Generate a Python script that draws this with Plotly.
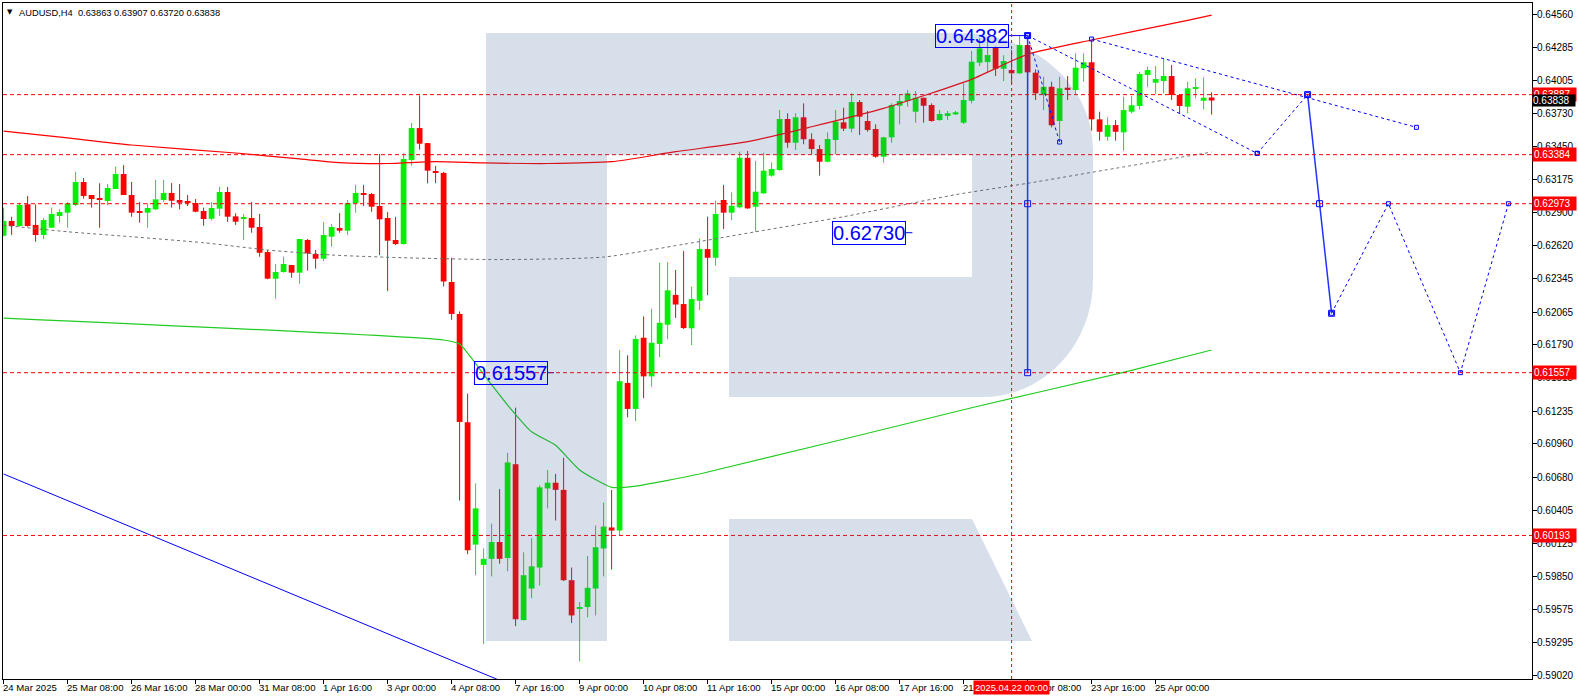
import plotly.graph_objects as go

# ---------------- data (AUDUSD H4, candle index 0 = 24 Mar 2025 00:00) ----------------
opens = [0.62705,0.62828,0.62786,0.62968,0.62795,0.62711,0.62772,0.62870,0.62898,0.62962,
         0.63155,0.63046,0.63021,0.62996,0.63096,0.63222,0.63046,0.62903,0.62898,0.62926,
         0.63004,0.63063,0.63004,0.62990,0.62979,0.62912,0.62847,0.62931,0.63071,0.62867,
         0.62847,0.62853,0.62778,0.62568,0.62345,0.62401,0.62459,0.62395,0.62669,0.62552,
         0.62512,0.62697,0.62769,0.62747,0.62976,0.63057,0.63054,0.62954,0.62853,0.62669,
         0.62635,0.63339,0.63607,0.63481,0.63247,0.63231,0.62317,0.62049,0.61141,0.60116,
         0.59946,0.59997,0.60138,0.60004,0.60789,0.59484,0.59748,0.59924,0.60587,0.60635,
         0.60575,0.59818,0.59577,0.59593,0.59748,0.60084,0.60260,0.60234,0.61471,0.61253,
         0.61850,0.61526,0.61798,0.61959,0.62209,0.62132,0.61929,0.62160,0.62593,0.62520,
         0.63004,0.62898,0.62943,0.63358,0.62948,0.63060,0.63208,0.63255,0.63683,0.63484,
         0.63697,0.63513,0.63431,0.63325,0.63507,0.63655,0.63602,0.63825,0.63666,0.63599,
         0.63367,0.63529,0.63794,0.63834,0.63744,0.63861,0.63800,0.63674,0.63716,0.63722,
         0.63652,0.63836,0.64155,0.64160,0.64284,0.64104,0.64093,0.64066,0.64303,0.64071,
         0.63884,0.63953,0.63666,0.63945,0.63926,0.64108,0.64158,0.63680,0.63534,0.63632,
         0.63571,0.63744,0.63792,0.64052,0.63987,0.64001,0.64043,0.63884,0.63786,0.63937,
         0.63836,0.63863]
highs = [0.62940,0.62864,0.62981,0.63038,0.62968,0.62853,0.62940,0.62926,0.62987,0.63241,
         0.63188,0.63046,0.63144,0.63138,0.63283,0.63297,0.63155,0.62987,0.62976,0.63172,
         0.63172,0.63146,0.63138,0.63046,0.63012,0.62940,0.62987,0.63115,0.63113,0.62893,
         0.62887,0.62987,0.62887,0.62585,0.62468,0.62529,0.62459,0.62677,0.62677,0.62585,
         0.62820,0.62803,0.62895,0.63004,0.63130,0.63130,0.63063,0.63390,0.62903,0.62862,
         0.63395,0.63649,0.63881,0.63481,0.63289,0.63240,0.62520,0.62070,0.61382,0.60629,
         0.60084,0.60292,0.60581,0.60886,0.61264,0.60052,0.60171,0.60612,0.60741,0.60709,
         0.60844,0.59924,0.59635,0.60021,0.60276,0.60468,0.60574,0.61747,0.61703,0.61869,
         0.62029,0.62093,0.62478,0.62484,0.62417,0.62577,0.62278,0.62683,0.62864,0.62998,
         0.63130,0.63069,0.63409,0.63415,0.63331,0.63400,0.63320,0.63758,0.63731,0.63731,
         0.63814,0.63563,0.63465,0.63571,0.63758,0.63778,0.63898,0.63842,0.63750,0.63638,
         0.63534,0.63814,0.63884,0.63926,0.63917,0.63861,0.63814,0.63758,0.63750,0.63750,
         0.63982,0.64253,0.64359,0.64340,0.64289,0.64217,0.64261,0.64382,0.64331,0.64099,
         0.64037,0.63995,0.64037,0.64043,0.64233,0.64233,0.64345,0.63744,0.63697,0.63674,
         0.63870,0.63876,0.64079,0.64121,0.64127,0.64191,0.64135,0.63892,0.63995,0.64024,
         0.64032,0.63907]
lows = [0.62700,0.62711,0.62780,0.62780,0.62655,0.62677,0.62772,0.62814,0.62772,0.62954,
        0.63015,0.62940,0.62772,0.62960,0.63096,0.63046,0.62864,0.62814,0.62772,0.62920,
        0.62987,0.62940,0.62926,0.62954,0.62901,0.62789,0.62834,0.62870,0.62820,0.62795,
        0.62669,0.62730,0.62529,0.62340,0.62177,0.62395,0.62353,0.62303,0.62412,0.62428,
        0.62493,0.62613,0.62730,0.62711,0.62898,0.62954,0.62906,0.62543,0.62241,0.62627,
        0.62630,0.63291,0.63426,0.63144,0.63146,0.62279,0.62000,0.60485,0.60036,0.59860,
        0.59283,0.59850,0.59956,0.59892,0.59433,0.59480,0.59667,0.59774,0.60420,0.60318,
        0.59811,0.59459,0.59138,0.59507,0.59523,0.59850,0.59908,0.60197,0.61183,0.61151,
        0.61343,0.61439,0.61687,0.61837,0.62016,0.61923,0.61789,0.62082,0.62208,0.62453,
        0.62761,0.62836,0.62934,0.62930,0.62738,0.63055,0.63199,0.63250,0.63442,0.63423,
        0.63471,0.63390,0.63208,0.63320,0.63390,0.63582,0.63571,0.63549,0.63576,0.63358,
        0.63317,0.63484,0.63638,0.63786,0.63652,0.63652,0.63660,0.63669,0.63674,0.63716,
        0.63641,0.63814,0.64127,0.64068,0.64043,0.64001,0.63974,0.64060,0.63932,0.63842,
        0.63758,0.63613,0.63507,0.63842,0.63884,0.63995,0.63585,0.63501,0.63501,0.63501,
        0.63417,0.63731,0.63764,0.63953,0.63892,0.63898,0.63842,0.63725,0.63731,0.63856,
        0.63764,0.63720]
closes = [0.62828,0.62786,0.62962,0.62786,0.62711,0.62836,0.62887,0.62903,0.62976,0.63155,
          0.63038,0.63012,0.63004,0.63105,0.63222,0.63046,0.62898,0.62898,0.62937,0.63010,
          0.63063,0.62998,0.62981,0.62985,0.62906,0.62845,0.62937,0.63071,0.62864,0.62822,
          0.62862,0.62772,0.62562,0.62345,0.62401,0.62468,0.62395,0.62677,0.62557,0.62512,
          0.62711,0.62778,0.62747,0.62979,0.63063,0.63052,0.62948,0.62842,0.62663,0.62635,
          0.63348,0.63607,0.63476,0.63250,0.63234,0.62321,0.62049,0.61144,0.60068,0.60420,
          0.59997,0.60138,0.59997,0.60805,0.59491,0.59860,0.59934,0.60596,0.60635,0.60575,
          0.59818,0.59523,0.59593,0.59754,0.60094,0.60267,0.60234,0.61485,0.61253,0.61840,
          0.61526,0.61808,0.61975,0.62247,0.62128,0.61931,0.62174,0.62593,0.62520,0.62887,
          0.62898,0.62956,0.63358,0.62934,0.63074,0.63250,0.63264,0.63683,0.63484,0.63697,
          0.63513,0.63431,0.63325,0.63515,0.63660,0.63602,0.63825,0.63702,0.63591,0.63367,
          0.63529,0.63800,0.63834,0.63898,0.63861,0.63794,0.63666,0.63725,0.63731,0.63739,
          0.63842,0.64163,0.64275,0.64219,0.64104,0.64169,0.64066,0.64303,0.64074,0.63898,
          0.63953,0.63630,0.63940,0.63932,0.64113,0.64158,0.63680,0.63576,0.63632,0.63576,
          0.63758,0.63798,0.64060,0.64093,0.64018,0.64043,0.63884,0.63792,0.63940,0.63948,
          0.63861,0.63838]

# time-axis labels (every 8 bars)
time_tick_idx = [0, 8, 16, 24, 32, 40, 48, 56, 64, 72, 80, 88, 96, 104, 112, 120, 128, 136, 144]
time_tick_txt = ["24 Mar 2025", "25 Mar 08:00", "26 Mar 16:00", "28 Mar 00:00", "31 Mar 08:00",
                 "1 Apr 16:00", "3 Apr 00:00", "4 Apr 08:00", "7 Apr 16:00", "9 Apr 00:00",
                 "10 Apr 08:00", "11 Apr 16:00", "15 Apr 00:00", "16 Apr 08:00", "17 Apr 16:00",
                 "21 Apr 00:00", "22 Apr 08:00", "23 Apr 16:00", "25 Apr 00:00"]
price_ticks = [0.64560, 0.64285, 0.64005, 0.63730, 0.63450, 0.63175, 0.62900, 0.62620, 0.62345,
               0.62065, 0.61790, 0.61515, 0.61235, 0.60960, 0.60680, 0.60405, 0.60125, 0.59850,
               0.59575, 0.59295, 0.59020]

# moving averages (values read at knot bars)
red_ma_idx = [0, 8, 16, 29, 37, 42, 48, 54, 60, 68, 76, 84, 93, 101, 110, 121, 128, 136, 148, 151]
red_ma_val = [0.63582, 0.63524, 0.63465, 0.63398, 0.63348, 0.63318, 0.63310, 0.63325, 0.63315,
              0.63310, 0.63325, 0.63409, 0.63493, 0.63618, 0.63772, 0.64015, 0.64225, 0.64345,
              0.64510, 0.64554]
grey_ma_idx = [0, 8, 16, 25, 33, 41, 50, 62, 75, 85, 94, 105, 119, 128, 139, 151]
grey_ma_val = [0.62792, 0.62738, 0.62696, 0.62646, 0.62585, 0.62543, 0.62520, 0.62505, 0.62526,
               0.62633, 0.62738, 0.62864, 0.63049, 0.63144, 0.63270, 0.63406]
green_ma_idx = [0, 55, 57, 60, 63, 66, 69, 72, 76, 79, 87, 121, 140, 151]
green_ma_val = [0.62015, 0.61831, 0.61797, 0.61543, 0.61286, 0.61062, 0.60949, 0.60742, 0.60596,
                0.60607, 0.60708, 0.61263, 0.61560, 0.61747]

trend_idx = [0, 64]
trend_val = [0.60708, 0.58923]

# horizontal levels
levels = [0.63887, 0.63384, 0.62973, 0.61557, 0.60193]
last_price = 0.63838
marker_bar = 126
marker_text = "2025.04.22 00:00"

# drawn forecast objects
vert_idx = [128, 128, 128]
vert_val = [0.64382, 0.62973, 0.61557]
leg1_idx = [128, 132]
leg1_val = [0.64382, 0.63490]
lower_idx = [128, 156.7]
lower_val = [0.64382, 0.63395]
upper_idx = [136, 176.6]
upper_val = [0.64353, 0.63613]
path1_idx = [156.7, 163]
path1_val = [0.63395, 0.63887]
solid_idx = [163, 164.5, 166]
solid_val = [0.63887, 0.62973, 0.62055]
path2_idx = [166, 173.1, 182.1, 188.1]
path2_val = [0.62055, 0.62973, 0.61557, 0.62973]

price_labels = [("0.64382", 125.7, 128, 0.64382),
                ("0.62730", 112.8, 113.6, 0.62730),
                ("0.61557", 68.0, 68.8, 0.61557)]

header = "AUDUSD,H4\u00a0\u00a00.63863 0.63907 0.63720 0.63838"

# ---------------- layout geometry ----------------
W, H = 1578, 699
ML, MR, MT, MB = 3, 46, 3, 20
X_RANGE = [-0.075, 191.05]
Y_RANGE = [0.58990, 0.64655]
FONT = "Liberation Sans"
GREEN = "#00f000"
RED = "#ff0000"
BLUE = "#0000ff"

fig = go.Figure()

n = len(opens)
idx = list(range(n))
up = [c >= o for o, c in zip(opens, closes)]
body_lo = [min(o, c) for o, c in zip(opens, closes)]
body_h = [max(abs(c - o), 0.00011) for o, c in zip(opens, closes)]

fig.add_trace(go.Bar(x=idx, y=body_h, base=body_lo, width=0.72,
                     marker=dict(color=[GREEN if u else RED for u in up], line=dict(width=0)),
                     hoverinfo="skip", showlegend=False))

for flag, col in ((True, GREEN), (False, RED)):
    xs, ys = [], []
    for i in idx:
        if up[i] == flag:
            xs += [i, i, None]
            ys += [lows[i], highs[i], None]
    fig.add_trace(go.Scatter(x=xs, y=ys, mode="lines", line=dict(color=col, width=1),
                             hoverinfo="skip", showlegend=False))

fig.add_trace(go.Scatter(x=red_ma_idx, y=red_ma_val, mode="lines", line=dict(color="#ff0000", width=1.2, shape="spline", smoothing=0.6), showlegend=False, hoverinfo="skip"))
fig.add_trace(go.Scatter(x=grey_ma_idx, y=grey_ma_val, mode="lines", line=dict(color="#707070", width=1, dash="3px,3px", shape="spline", smoothing=0.6), showlegend=False, hoverinfo="skip"))
fig.add_trace(go.Scatter(x=green_ma_idx, y=green_ma_val, mode="lines", line=dict(color="#22cc22", width=1.2, shape="spline", smoothing=0.5), showlegend=False, hoverinfo="skip"))
fig.add_trace(go.Scatter(x=trend_idx, y=trend_val, mode="lines", line=dict(color=BLUE, width=1), showlegend=False, hoverinfo="skip"))

for xs, ys in ((leg1_idx, leg1_val), (lower_idx, lower_val), (upper_idx, upper_val),
               (path1_idx, path1_val), (path2_idx, path2_val)):
    fig.add_trace(go.Scatter(x=xs, y=ys, mode="lines+markers",
                             line=dict(color=BLUE, width=1, dash="3px,3px"),
                             marker=dict(symbol="square-open", size=4, color=BLUE),
                             showlegend=False, hoverinfo="skip"))
for xs, ys in ((solid_idx, solid_val), (vert_idx, vert_val)):
    fig.add_trace(go.Scatter(x=xs, y=ys, mode="lines+markers",
                             line=dict(color="#2233ff", width=1.5),
                             marker=dict(symbol="square-open", size=6, color=BLUE),
                             showlegend=False, hoverinfo="skip"))

for txt, xr, xe, val in price_labels:
    fig.add_trace(go.Scatter(x=[xr, xe], y=[val, val], mode="lines", line=dict(color=BLUE, width=1),
                             showlegend=False, hoverinfo="skip"))

shapes = []
for lv in levels:
    shapes.append(dict(type="line", xref="paper", yref="y", x0=0, x1=1, y0=lv, y1=lv,
                       line=dict(color=RED, width=1, dash="4px,3px"), layer="above"))
shapes.append(dict(type="line", xref="x", yref="paper", x0=marker_bar, x1=marker_bar, y0=0, y1=1,
                   line=dict(color=RED, width=1, dash="3px,3px"), layer="above"))

# watermark "R" logo (pixel geometry -> paper coords)
def P(x, y):
    return f"{(x - ML) / (W - ML - MR):.5f},{(H - MB - y) / (H - MT - MB):.5f}"
k = 0.5523
bowl = ("M" + P(486, 33) + " L" + P(960, 33) +
        " C" + P(960 + k * 133, 33) + " " + P(1093, 150 - k * 117) + " " + P(1093, 150) +
        " L" + P(1093, 280) +
        " C" + P(1093, 280 + k * 117) + " " + P(983 + k * 110, 397) + " " + P(983, 397) +
        " L" + P(729, 397) + " L" + P(729, 277) + " L" + P(972, 277) + " L" + P(972, 155) +
        " L" + P(607, 155) + " L" + P(607, 641) + " L" + P(486, 641) + " Z")
leg = "M" + P(729, 519) + " L" + P(972, 519) + " L" + P(1032, 641) + " L" + P(729, 641) + " Z"
for pth in (bowl, leg):
    shapes.append(dict(type="path", xref="paper", yref="paper", path=pth,
                       fillcolor="rgba(50,95,150,0.2)", line=dict(width=0), layer="above"))

ann = []
for ti, tt in zip(time_tick_idx, time_tick_txt):
    ann.append(dict(x=ti, y=0, xref="x", yref="paper", text=tt, showarrow=False,
                    xanchor="left", yanchor="top", yshift=-1, xshift=-3,
                    font=dict(family=FONT, size=9.6, color="black")))
ann.append(dict(x=marker_bar, y=0, xref="x", yref="paper", text=marker_text, showarrow=False,
                xanchor="center", yanchor="top", yshift=-1, bgcolor=RED, borderpad=1,
                font=dict(family=FONT, size=9.4, color="white")))
for p in price_ticks:
    ann.append(dict(x=1, y=p, xref="paper", yref="y", text=f"{p:.5f}", showarrow=False,
                    xanchor="left", yanchor="middle", xshift=3,
                    font=dict(family=FONT, size=10, color="black")))
for lv in levels:
    ann.append(dict(x=1, y=lv, xref="paper", yref="y", text=f"{lv:.5f}", showarrow=False,
                    xanchor="left", yanchor="middle", xshift=0, bgcolor=RED, borderpad=1,
                    width=41, align="left", font=dict(family=FONT, size=10, color="white")))
ann.append(dict(x=1, y=last_price, xref="paper", yref="y", text=f"{last_price:.5f}", showarrow=False,
                xanchor="left", yanchor="middle", bgcolor="black", borderpad=0, width=42, align="left",
                font=dict(family=FONT, size=10, color="white")))
for txt, xr, xe, val in price_labels:
    ann.append(dict(x=xr, y=val, xref="x", yref="y", text=txt, showarrow=False,
                    xanchor="right", yanchor="middle", bordercolor=BLUE, borderwidth=1, borderpad=0,
                    font=dict(family=FONT, size=20, color=BLUE)))
ann.append(dict(x=0, y=1, xref="paper", yref="paper", text="\u25bc", showarrow=False,
                xanchor="left", yanchor="top", xshift=2, yshift=-3,
                font=dict(family="DejaVu Sans", size=7, color="black")))
ann.append(dict(x=0, y=1, xref="paper", yref="paper", text=header, showarrow=False,
                xanchor="left", yanchor="top", xshift=14, yshift=-3,
                font=dict(family=FONT, size=9.3, color="black")))

fig.update_layout(
    width=W, height=H, margin=dict(l=ML, r=MR, t=MT, b=MB),
    plot_bgcolor="white", paper_bgcolor="white", barmode="overlay", showlegend=False,
    shapes=shapes, annotations=ann,
    xaxis=dict(range=X_RANGE, showgrid=False, zeroline=False, showline=True, linecolor="black",
               linewidth=1, mirror=True, ticks="outside", ticklen=4, tickcolor="black",
               tickvals=time_tick_idx, showticklabels=False, fixedrange=True),
    yaxis=dict(range=Y_RANGE, side="right", showgrid=False, zeroline=False, showline=True,
               linecolor="black", linewidth=1, mirror=True, ticks="outside", ticklen=4,
               tickcolor="black", tickvals=price_ticks, showticklabels=False, fixedrange=True),
)

fig.write_html("out.html",
               config={"displayModeBar": False},
               post_script="document.body.style.margin='0';document.body.style.padding='0';"
                           "document.documentElement.style.overflow='hidden';")
